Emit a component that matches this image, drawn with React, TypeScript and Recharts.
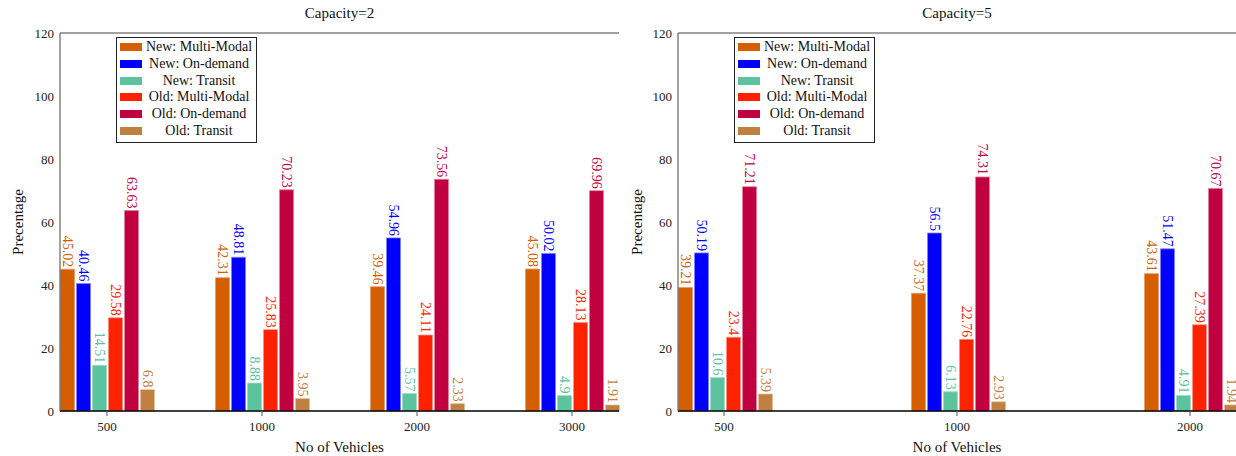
import React from 'react';
import { BarChart, Bar, XAxis, YAxis, Legend, LabelList } from 'recharts';

const FONT = "'Liberation Serif', 'Times New Roman', serif";

// Capacity = 2
const categoriesCap2 = ['500', '1000', '2000', '3000'];
const newMultiModalCap2 = [45.02, 42.31, 39.46, 45.08];
const newOnDemandCap2 = [40.46, 48.81, 54.96, 50.02];
const newTransitCap2 = [14.51, 8.88, 5.57, 4.9];
const oldMultiModalCap2 = [29.58, 25.83, 24.11, 28.13];
const oldOnDemandCap2 = [63.63, 70.23, 73.56, 69.96];
const oldTransitCap2 = [6.8, 3.95, 2.33, 1.91];

// Capacity = 5
const categoriesCap5 = ['500', '1000', '2000'];
const newMultiModalCap5 = [39.21, 37.37, 43.61];
const newOnDemandCap5 = [50.19, 56.5, 51.47];
const newTransitCap5 = [10.6, 6.13, 4.91];
const oldMultiModalCap5 = [23.4, 22.76, 27.39];
const oldOnDemandCap5 = [71.21, 74.31, 70.67];
const oldTransitCap5 = [5.39, 2.93, 1.94];

const yTicks = [0, 20, 40, 60, 80, 100, 120];

const seriesDefs = [
  { key: 'nmm', name: 'New: Multi-Modal', color: '#D55E00', edge: '#E59A66' },
  { key: 'nod', name: 'New: On-demand', color: '#0000FF', edge: '#7F7FFF' },
  { key: 'ntr', name: 'New: Transit', color: '#5BC49E', edge: '#9DDCC5' },
  { key: 'omm', name: 'Old: Multi-Modal', color: '#FF2200', edge: '#FF907F' },
  { key: 'ood', name: 'Old: On-demand', color: '#C0003F', edge: '#DF7F9F' },
  { key: 'otr', name: 'Old: Transit', color: '#C08040', edge: '#DFBF9F' },
];

function buildRows(cats: string[], cols: number[][]) {
  return cats.map((c, i) => {
    const row: any = { cat: c };
    seriesDefs.forEach((s, j) => {
      row[s.key] = cols[j][i];
    });
    return row;
  });
}

const rowsCap2 = buildRows(categoriesCap2, [
  newMultiModalCap2, newOnDemandCap2, newTransitCap2, oldMultiModalCap2, oldOnDemandCap2, oldTransitCap2,
]);
const rowsCap5 = buildRows(categoriesCap5, [
  newMultiModalCap5, newOnDemandCap5, newTransitCap5, oldMultiModalCap5, oldOnDemandCap5, oldTransitCap5,
]);

const makeValueLabel = (color: string) => (props: any) => {
  const { x, y, width, value } = props;
  const cx = Number(x) + Number(width) / 2;
  const cy = Number(y) - 2;
  return (
    <text
      transform={`translate(${cx},${cy}) rotate(90)`}
      textAnchor="end"
      dominantBaseline="central"
      fill={color}
      fontSize={14}
      fontFamily={FONT}
    >
      {String(value)}
    </text>
  );
};

const LegendBox = () => (
  <div
    style={{
      border: '1px solid #222',
      background: '#fff',
      width: 139,
      padding: '1px 0 3px 0',
      fontFamily: FONT,
      fontSize: 14,
      color: '#111',
    }}
  >
    {seriesDefs.map((s) => (
      <div key={s.key} style={{ display: 'flex', alignItems: 'center', height: 16.7 }}>
        <div style={{ width: 22, height: 8, background: s.color, marginLeft: 3, flex: 'none' }} />
        <div style={{ flex: 1, textAlign: 'center', whiteSpace: 'nowrap', lineHeight: '16px' }}>{s.name}</div>
      </div>
    ))}
  </div>
);

type PanelProps = {
  rows: any[];
  width: number;
  rightMargin: number;
  pad: number;
  gap: number;
  legendLeft: number;
};

function Panel({ rows, width, rightMargin, pad, gap, legendLeft }: PanelProps) {
  return (
    <BarChart
      width={width}
      height={456}
      data={rows}
      margin={{ top: 0, right: rightMargin, bottom: 0, left: 0 }}
      barGap={2}
      barCategoryGap={gap}
    >
      <XAxis
        xAxisId="b"
        dataKey="cat"
        height={45}
        padding={{ left: pad, right: pad }}
        tickSize={5}
        tickMargin={6}
        axisLine={{ stroke: '#000', strokeWidth: 1.3 }}
        tickLine={{ stroke: '#555' }}
        tick={{ fill: '#222', fontSize: 13, fontFamily: FONT }}
        interval={0}
      />
      <XAxis
        xAxisId="t"
        dataKey="cat"
        orientation="top"
        height={33}
        padding={{ left: pad, right: pad }}
        tickSize={4}
        tick={false}
        axisLine={{ stroke: '#444' }}
        tickLine={{ stroke: '#555' }}
        interval={0}
      />
      <YAxis
        yAxisId="l"
        width={60}
        domain={[0, 120]}
        ticks={yTicks}
        tickSize={0}
        tickMargin={6}
        tickLine={false}
        axisLine={{ stroke: '#444' }}
        tick={{ fill: '#222', fontSize: 13, fontFamily: FONT }}
      />
      <YAxis
        yAxisId="lm"
        width={0}
        mirror
        domain={[0, 120]}
        ticks={yTicks}
        tickSize={4}
        tick={false}
        axisLine={false}
        tickLine={{ stroke: '#555' }}
      />
      <YAxis
        yAxisId="r"
        orientation="right"
        width={0}
        mirror
        domain={[0, 120]}
        ticks={yTicks}
        tickSize={4}
        tick={false}
        axisLine={{ stroke: '#444' }}
        tickLine={{ stroke: '#555' }}
      />
      <Legend
        layout="vertical"
        align="center"
        verticalAlign="middle"
        content={() => <LegendBox />}
        wrapperStyle={{ position: 'absolute', left: legendLeft, top: 37, width: 141, height: 106 }}
      />
      {seriesDefs.map((s) => (
        <Bar
          key={s.key}
          dataKey={s.key}
          name={s.name}
          xAxisId="b"
          yAxisId="l"
          fill={s.color}
          stroke={s.edge}
          strokeWidth={0.8}
          isAnimationActive={false}
        >
          <LabelList dataKey={s.key} content={makeValueLabel(s.color)} />
        </Bar>
      ))}
    </BarChart>
  );
}

const textStyle: React.CSSProperties = {
  position: 'absolute',
  fontFamily: FONT,
  fontSize: 15,
  color: '#111',
  whiteSpace: 'nowrap',
  lineHeight: '16px',
};

export default function App() {
  return (
    <div style={{ position: 'absolute', left: 0, top: 0, width: 1236, height: 456, background: '#fff', overflow: 'hidden' }}>
      <div style={{ position: 'absolute', left: 0, top: 0 }}>
        <Panel rows={rowsCap2} width={620} rightMargin={1} pad={-30.5} gap={31} legendLeft={116} />
      </div>
      <div style={{ position: 'absolute', left: 618, top: 0 }}>
        <Panel rows={rowsCap5} width={618} rightMargin={0} pad={-70.5} gap={71} legendLeft={116} />
      </div>
      {/* titles */}
      <div style={{ ...textStyle, left: 339.5, top: 5, transform: 'translateX(-50%)' }}>Capacity=2</div>
      <div style={{ ...textStyle, left: 957, top: 5, transform: 'translateX(-50%)' }}>Capacity=5</div>
      {/* x labels */}
      <div style={{ ...textStyle, left: 339.5, top: 439, transform: 'translateX(-50%)' }}>No of Vehicles</div>
      <div style={{ ...textStyle, left: 957, top: 439, transform: 'translateX(-50%)' }}>No of Vehicles</div>
      {/* y labels */}
      <div style={{ ...textStyle, left: 18, top: 222, transform: 'translate(-50%, -50%) rotate(-90deg)' }}>Precentage</div>
      <div style={{ ...textStyle, left: 637, top: 222, transform: 'translate(-50%, -50%) rotate(-90deg)' }}>Precentage</div>
    </div>
  );
}
